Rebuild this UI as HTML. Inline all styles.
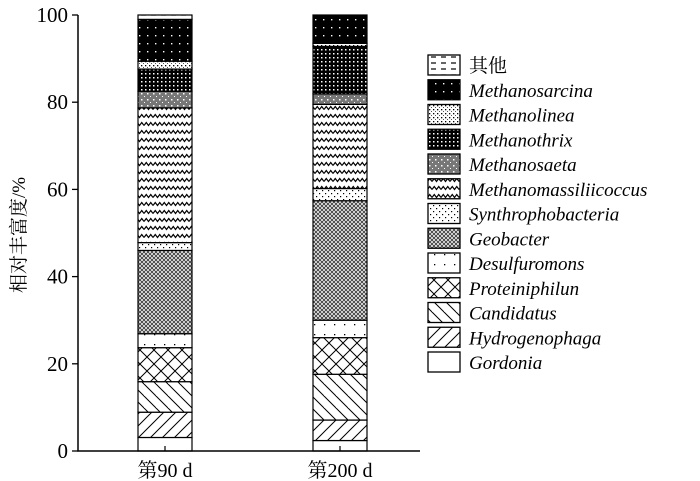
<!DOCTYPE html>
<html><head><meta charset="utf-8"><style>
body{margin:0;background:#fff;}
svg{display:block;font-family:"Liberation Serif","Noto Serif CJK SC",serif;}
</style></head><body>
<svg id="chart" width="700" height="481" viewBox="0 0 700 481" xmlns="http://www.w3.org/2000/svg">
<defs>
<pattern id="p0" width="10" height="6" patternUnits="userSpaceOnUse"><rect width="10" height="6" fill="#fff"/><line x1="1" y1="3" x2="6" y2="3" stroke="#000" stroke-width="1.2"/></pattern>
<pattern id="p1" width="8" height="8" patternUnits="userSpaceOnUse"><rect width="8" height="8" fill="#000"/><rect x="3" y="3" width="1.4" height="1.4" fill="#fff"/></pattern>
<pattern id="p2" width="4" height="4" patternUnits="userSpaceOnUse"><rect width="4" height="4" fill="#fff"/><rect x="1" y="1" width="1.3" height="1.3" fill="#000"/><rect x="3" y="3" width="1" height="1" fill="#555"/></pattern>
<pattern id="p3" width="4" height="4" patternUnits="userSpaceOnUse"><rect width="4" height="4" fill="#000"/><rect x="1" y="1" width="1.5" height="1.5" fill="#fff"/></pattern>
<pattern id="p4" width="6" height="6" patternUnits="userSpaceOnUse"><rect width="6" height="6" fill="#777"/><rect x="0" y="0" width="1" height="1" fill="#fff"/><rect x="3" y="3" width="1.5" height="1.5" fill="#fff"/></pattern>
<pattern id="p5" width="9" height="8" patternUnits="userSpaceOnUse"><rect width="9" height="8" fill="#fff"/><path d="M0 5.5 L2.25 2.5 L4.5 5.5 L6.75 2.5 L9 5.5" fill="none" stroke="#000" stroke-width="1.2"/></pattern>
<pattern id="p6" width="6" height="6" patternUnits="userSpaceOnUse"><rect width="6" height="6" fill="#fff"/><rect x="1" y="1" width="1.2" height="1.2" fill="#000"/><rect x="4" y="4" width="1.2" height="1.2" fill="#000"/></pattern>
<pattern id="p7" width="4" height="4" patternUnits="userSpaceOnUse"><rect width="4" height="4" fill="#fff"/><path d="M0 0 L4 4 M4 0 L0 4" stroke="#444" stroke-width="1"/></pattern>
<pattern id="p8" width="10" height="10" patternUnits="userSpaceOnUse"><rect width="10" height="10" fill="#fff"/><rect x="4" y="4" width="1.3" height="1.3" fill="#000"/></pattern>
<pattern id="p9" width="14" height="14" patternUnits="userSpaceOnUse"><rect width="14" height="14" fill="#fff"/><path d="M0 0 L14 14 M14 0 L0 14" stroke="#000" stroke-width="1"/></pattern>
<pattern id="p10" width="12" height="12" patternUnits="userSpaceOnUse"><rect width="12" height="12" fill="#fff"/><path d="M0 0 L12 12 M-6 6 L0 12 M6 -6 L18 6" stroke="#000" stroke-width="1"/></pattern>
<pattern id="p11" width="12" height="12" patternUnits="userSpaceOnUse"><rect width="12" height="12" fill="#fff"/><path d="M0 12 L12 0 M-6 6 L6 -6 M6 18 L18 6" stroke="#000" stroke-width="1"/></pattern>
<pattern id="p12" width="4" height="4" patternUnits="userSpaceOnUse"><rect width="4" height="4" fill="#fff"/></pattern>
</defs>
<g id="plot"></g>
</svg>
<script>
const categories = ["第90 d", "第200 d"];
const seriesNames = ["其他","Methanosarcina","Methanolinea","Methanothrix","Methanosaeta","Methanomassiliicoccus","Synthrophobacteria","Geobacter","Desulfuromons","Proteiniphilun","Candidatus","Hydrogenophaga","Gordonia"];
// stacked order bottom -> top
const stackOrder = ["Gordonia","Hydrogenophaga","Candidatus","Proteiniphilun","Desulfuromons","Geobacter","Synthrophobacteria","Methanomassiliicoccus","Methanosaeta","Methanothrix","Methanolinea","Methanosarcina","其他"];
const day90 = [3.1, 5.8, 7.0, 7.8, 3.2, 19.1, 1.8, 30.9, 3.8, 5.1, 1.8, 9.6, 1.0];
const day200 = [2.4, 4.7, 10.5, 8.4, 4.0, 27.4, 2.8, 19.3, 2.4, 10.9, 0.7, 6.5, 0.0];
const yTicks = [0, 20, 40, 60, 80, 100];

const NS = "http://www.w3.org/2000/svg";
const g = document.getElementById("plot");
const y0 = 451, y100 = 15;
const yScale = v => y0 - (y0 - y100) * v / 100;
const barX = [138, 313], barW = 54;
function mk(tag, attrs){const e=document.createElementNS(NS,tag);for(const k in attrs)e.setAttribute(k,attrs[k]);g.appendChild(e);return e;}
const patId = n => "url(#p" + seriesNames.indexOf(n) + ")";

[day90, day200].forEach((vals, i) => {
  let acc = 0;
  vals.forEach((v, j) => {
    if (v <= 0) return;
    const r = mk("rect", {x: barX[i], y: yScale(acc + v), width: barW, height: yScale(acc) - yScale(acc + v), fill: patId(stackOrder[j]), stroke: "#000", "stroke-width": 1.2});
    
    
    acc += v;
  });
  const t = mk("text", {x: barX[i] + barW/2, y: 477, "text-anchor": "middle", "font-size": 20});
  t.textContent = categories[i];
  
  
  const tk = mk("line", {x1: barX[i] + barW/2, x2: barX[i] + barW/2, y1: y0, y2: y0 - 5, stroke: "#000", "stroke-width": 1.2});
  
  
});

const ax = mk("path", {d: `M78 ${y100} L78 ${y0} L420 ${y0}`, fill: "none", stroke: "#000", "stroke-width": 1.5});


yTicks.forEach(v => {
  const l = mk("line", {x1: 72, x2: 78, y1: yScale(v), y2: yScale(v), stroke: "#000", "stroke-width": 1.3});
  
  
  const t = mk("text", {x: 68, y: yScale(v) + 7, "text-anchor": "end", "font-size": 21});
  t.textContent = v;
  
  
});
const yt = mk("text", {transform: "translate(25,235) rotate(-90)", "text-anchor": "middle", "font-size": 19});
yt.textContent = "相对丰富度/%";



seriesNames.forEach((n, k) => {
  const cy = 65 + k * 24.75;
  const s = mk("rect", {x: 428, y: cy - 10, width: 32, height: 20, fill: patId(n), stroke: "#000", "stroke-width": 1.3});
  
  
  const t = mk("text", {x: 469, y: cy + 7, "font-size": 19, "font-style": k === 0 ? "normal" : "italic"});
  t.textContent = n;
  
  
});
</script>
</body></html>
